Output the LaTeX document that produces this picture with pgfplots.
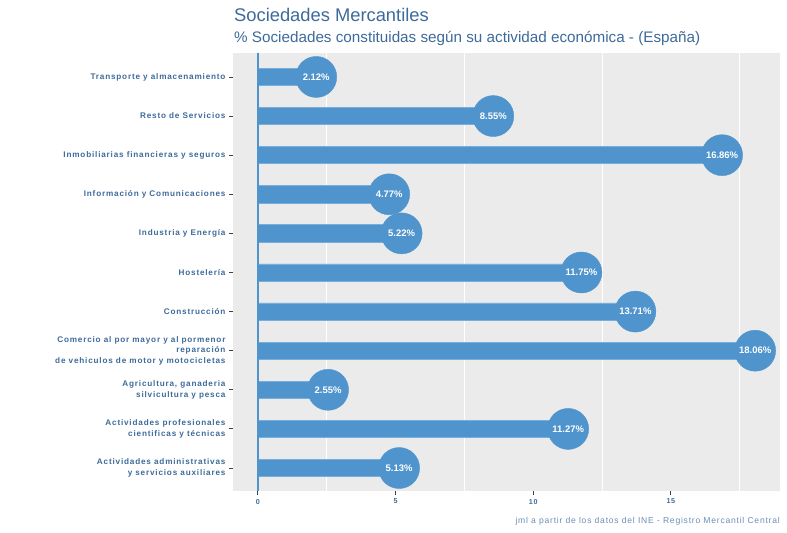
\documentclass[border=0pt]{standalone}
\usepackage{pgfplots}
\pgfplotsset{compat=1.18}
\usepackage{pgfplotstable}
\usepackage{fontspec}
\setmainfont{Liberation Sans}
\newfontfamily\lsfont[LetterSpace=10]{Liberation Sans}
\newfontfamily\capfont[LetterSpace=9]{Liberation Sans}
\definecolor{steel}{HTML}{4F94CD}
\definecolor{steeledge}{HTML}{78AEDB}
\definecolor{panel}{HTML}{EBEBEB}
\definecolor{txt}{HTML}{3D6A9A}
\definecolor{captxt}{HTML}{6A8DB5}
\pgfplotstableread{
y x
1 5.13
2 11.27
3 2.55
4 18.06
5 13.71
6 11.75
7 5.22
8 4.77
9 16.86
10 8.55
11 2.12
}\datatable
\begin{document}
\begin{tikzpicture}[x=1bp,y=1bp]
\useasboundingbox (0,0) rectangle (787,533);
\node[anchor=base west, text=txt, font=\fontsize{18.4}{21}\selectfont, inner sep=0] at (234,511) {Sociedades Mercantiles};
\node[anchor=base west, text=txt, font=\fontsize{15.3}{18}\selectfont, inner sep=0] at (234,490) {\% Sociedades constituidas según su actividad económica - (España)};
\node[anchor=base east, text=captxt, font=\capfont\fontsize{8.6}{10}\selectfont, inner sep=0] at (780,9) {jml a partir de los datos del INE - Registro Mercantil Central};
\begin{axis}[
  at={(233bp,41.5bp)}, anchor=south west,
  width=547bp, height=438bp, scale only axis,
  xmin=-0.903, xmax=18.963, ymin=0.4, ymax=11.6,
  axis background/.style={fill=panel},
  axis line style={draw=none},
  /pgf/number format/assume math mode=true,
  xtick={0,5,10,15},
  minor xtick={2.5,7.5,12.5,17.5},
  xminorgrids=true,
  minor grid style={white, line width=1pt},
  minor tick length=0pt,
  xtick pos=bottom, ytick pos=left,
  tick align=outside,
  major tick length=4bp,
  tick style={draw=black!75, line width=0.9pt},
  xticklabel style={text=txt, font=\lsfont\bfseries\fontsize{7.2}{8}\selectfont},
  ytick={1,...,11},
  yticklabels={{Actividades administrativas\\y servicios auxiliares},
    {Actividades profesionales\\cientificas y técnicas},
    {Agricultura, ganaderia\\silvicultura y pesca},
    {Comercio al por mayor y al pormenor\\reparación\\de vehiculos de motor y motocicletas},
    {Construcción},{Hostelería},{Industria y Energía},
    {Información y Comunicaciones},
    {Inmobiliarias financieras y seguros},
    {Resto de Servicios},{Transporte y almacenamiento}},
  yticklabel style={text=txt, align=right, font=\lsfont\bfseries\fontsize{8.2}{10.5}\selectfont},
]
\addplot[xbar, bar width=0.44, fill=steel, draw=steeledge, line width=0.6pt] table[x=x,y=y]{\datatable};
\addplot[steel, line width=1.3pt] coordinates {(0,0.4) (0,11.6)};
\addplot[only marks, mark=*, mark size=20.5bp, mark options={fill=steel, draw=steel},
  point meta=x,
  nodes near coords={\pgfmathprintnumber[fixed,precision=2,fixed zerofill]{\pgfplotspointmeta}\%},
  nodes near coords align=center,
  every node near coord/.append style={anchor=center, text=white, font=\bfseries\fontsize{9.5}{11}\selectfont}
] table[x=x,y=y]{\datatable};
\end{axis}
\end{tikzpicture}
\end{document}
